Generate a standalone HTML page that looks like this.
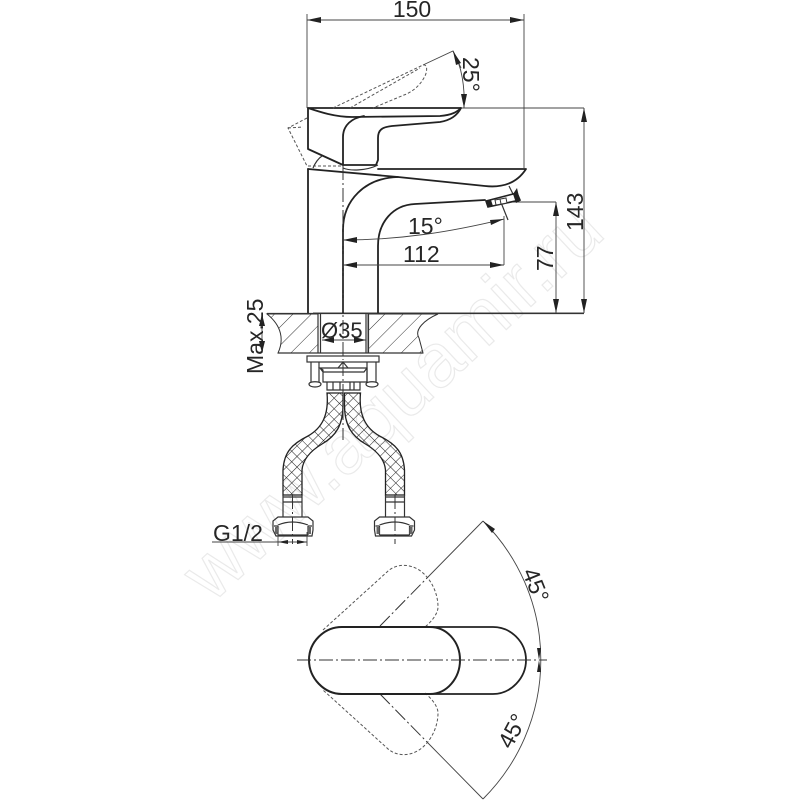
<!DOCTYPE html>
<html><head><meta charset="utf-8"><style>
html,body{margin:0;padding:0;background:#fff}
svg{display:block}
text{font-family:"Liberation Sans",sans-serif;fill:#262626}
.t{font-size:23px}
.k{fill:none;stroke:#222;stroke-width:1.8;stroke-linejoin:round;stroke-linecap:round}
.m{fill:none;stroke:#333;stroke-width:1.2}
.d{fill:none;stroke:#444;stroke-width:.9}
.ds{fill:none;stroke:#555;stroke-width:1;stroke-dasharray:3 2}
.cl{fill:none;stroke:#333;stroke-width:1;stroke-dasharray:14 3 2 3}
.a{fill:#222;stroke:none}
</style></head><body>
<svg width="800" height="800" viewBox="0 0 800 800" xmlns="http://www.w3.org/2000/svg">
<defs>
<pattern id="h" width="13" height="13" patternUnits="userSpaceOnUse" patternTransform="rotate(45)"><line x1="0" y1="0" x2="0" y2="13" stroke="#333" stroke-width="1"/></pattern>
<pattern id="x" width="7.500" height="7.500" patternUnits="userSpaceOnUse" patternTransform="rotate(45)"><path d="M0 0V7.500M0 0H7.500" stroke="#222" stroke-width="1.100" fill="none"/></pattern>
<g id="hose">
<path d="M327 393C329 415 322 428 308 436C292 444 284 452 283 470L283 495L302 495L302 470C303 458 312 450 322 444C336 436 343 425 343 405L343 393Z" fill="url(#x)" stroke="#222" stroke-width="1.300"/>
<path d="M283 495V517M302 495V517M283 497H302M283 502H302" class="m"/>
<path d="M278 517H308L313 521V530L312 536H276L273 530V521Z" class="m" fill="#fff"/>
<path d="M278 525Q292 519 308 525M278 526V535M308 526V535M278 535H308M274 526H278M308 526H312" class="m"/>
<path d="M275 527H278V534H275ZM308 527H311V534H308Z" fill="#666" stroke="none"/>
<path d="M292.500 495V544" class="cl"/>
</g>
</defs>
<rect width="800" height="800" fill="#fff"/>
<text x="0" y="0" transform="translate(212 604) rotate(-43)" style="font-size:76px;fill:#fff;stroke:#eaeaea;stroke-width:1.2">www.aquamir.ru</text>

<path d="M307 14V108M524 14V168M307 20H524" class="d"/>
<path class="a" d="M307 20l14-3v6zM524 20l-14-3v6z"/>
<text class="t" x="412" y="17" text-anchor="middle">150</text>

<path d="M461 108L584 108M584 108V313M313 313H584M490 202H556M556 202V313" class="d"/>
<path class="a" d="M584 108l-3 14h6zM584 313l-3-14h6zM556 202l-3 14h6zM556 313l-3-14h6z"/>
<text class="t" transform="translate(583 231) rotate(-90)" x="0" y="0">143</text>
<text class="t" transform="translate(553 271) rotate(-90)" x="0" y="0">77</text>

<path d="M308 108C320 112 335 117 352 117L440 116C452 115 457 112 461 108Z" class="k"/>
<path d="M308 108V149L343 165H376L378 160V138C378 130 382 127 392 126L440 122C452 120 458 114 461 108" class="k"/>
<path d="M343 165V137C343 125 352 118 364 116" class="k"/>
<path d="M343 168C350 171 366 171 378 165" class="m"/>
<path d="M313 168C316 161 319 158 322 156" class="m"/>
<path d="M308 166H343" class="ds"/>

<path d="M333 108L423 65C428 64 427 72 425 76C420 86 412 92 404 95L373 108" class="ds"/>
<path d="M350 108L420 68M307 118L288 128L307 166M288 128L303 127" class="ds"/>
<path d="M423 65L453 51L461 68" class="d"/>
<path d="M453 51C462 66 465 88 464 108" class="d"/>
<path class="a" d="M453 51l8 12-5 2zM464 108l-3-14 6 0z"/>
<text class="t" transform="translate(463 57) rotate(90)" x="0" y="0">25°</text>

<path d="M308 169V313M378 313V246C378 222 393 205 415 204L485 200" class="k"/>
<path d="M343 313V230C343 200 365 178 398 177" class="k"/>
<path d="M308 169L398 177L485 186C503 188 517 183 526 169H378" class="k"/>
<path d="M509 186L514 196M500 200L508 220" class="m"/>
<path d="M486 201L517 193L520 200L488 207Z" fill="#fff" stroke="#222" stroke-width="1.600"/>
<path d="M486 201L488 207L493 206L491 200ZM513 194L516 203L520 201L517 188Z" fill="#222"/>
<path d="M495 200L506 198L507 203L496 205ZM500 199L501 204" fill="#fff" stroke="#333"/>
<path d="M343 240C400 240 450 232 504 219" class="d"/>
<path d="M504 216V265" class="d"/>
<path class="a" d="M343 240l14-3v6zM504 219l-13 6-1-5z"/>
<text class="t" x="408" y="234">15°</text>
<path d="M343 265H504" class="d"/>
<path class="a" d="M343 265l14-3v6zM504 265l-14-3v6z"/>
<text class="t" x="403" y="262">112</text>
<path d="M343 166V360" class="cl"/>

<path d="M267 314H318V353H278C284 340 282 326 267 314ZM368 314H438C424 320 414 330 419 338L423 353H368Z" fill="url(#h)" stroke="#333" stroke-width="1"/>
<path d="M267 313.500H584M278 353H423M318 314V353M320.500 314V353M366 314V353M368.500 314V353" class="m"/>
<path d="M322 340H366" class="d"/>
<path class="a" d="M322 340l12-3v6zM366 340l-12-3v6z"/>
<text style="font-size:22px" x="321" y="338">Ø35</text>
<path d="M262 314V353" class="d"/>
<path class="a" d="M262 314l-3 12h6zM262 353l-3-12h6z"/>
<text class="t" transform="translate(263 374) rotate(-90)" x="0" y="0">Max.25</text>

<rect x="307" y="356" width="72" height="6" class="m" fill="#fff"/>
<path d="M311 362V382M319 362V382M367 362V382M376 362V382" class="m"/>
<path d="M309 384C309 381 321 381 321 384C321 388 309 388 309 384ZM366 384C366 381 378 381 378 384C378 388 366 388 366 384Z" class="m"/>
<path d="M320 368H367V382H323V370ZM320 368L323 372H364L367 368M327 382V390H360V382M333 382V390M340 382V390M350 382V390M354 382V390" class="m"/>
<path d="M338 368L343 362L348 368" class="m"/>

<use href="#hose"/>
<use href="#hose" transform="translate(687.500 0) scale(-1 1)"/>
<path d="M343 362V440" class="cl"/>

<path d="M212 542H307M278 532V546M307 532V546" class="d"/>
<path class="a" d="M278 542l10-2v4zM307 542l-10-2v4z"/>
<text class="t" x="213" y="541">G1/2</text>

<path d="M323 630L387 572C396 563 412 563 423 573C432 581 438 594 438 607C438 614 431 622 425 627M425 693C431 698 438 706 438 713C438 726 432 739 423 747C412 757 396 757 387 748L323 690" class="ds"/>
<path d="M380 626L427 578" class="cl"/>
<path d="M380 694L427 742" class="cl"/>
<path d="M427 578L483 521M427 742L483 799" class="d"/>
<path d="M483 521A196 196 0 0 1 483 799" class="d"/>
<path class="a" d="M483 521l12 8-3 4zM539 660l-2-12h4zM539 660l-2 12h4z"/>
<path d="M342 627H493C511 627 526 642 526 660C526 678 511 694 493 694H342" class="k"/>
<path d="M342 627H430C447 627 460 642 460 660C460 678 447 694 430 694H342C324 694 309 678 309 660C309 642 324 627 342 627Z" class="k" style="stroke-width:2" fill="#fff"/>
<path d="M297 660H547" class="cl"/>
<text class="t" transform="translate(522 572) rotate(68)" x="0" y="0">45°</text>
<text class="t" transform="translate(511 750) rotate(-62)" x="0" y="0">45°</text>
</svg>
</body></html>
